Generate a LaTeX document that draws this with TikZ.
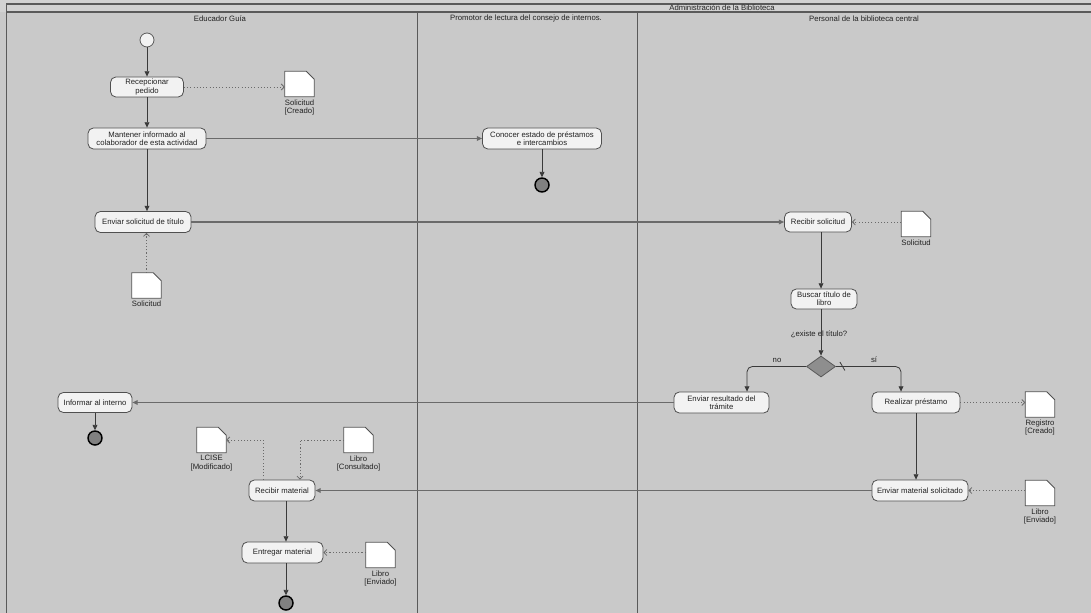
\documentclass[tikz,border=0pt]{standalone}
\usepackage{fontspec}
\setmainfont{Liberation Sans}
\usetikzlibrary{shapes.geometric,arrows.meta,calc}
\definecolor{bgc}{HTML}{C9C9C9}
\definecolor{topc}{HTML}{D2D2D2}
\definecolor{framec}{HTML}{5A5A5A}
\definecolor{boxfill}{HTML}{F2F2F2}
\definecolor{boxc}{HTML}{505050}
\definecolor{linec}{HTML}{3A3A3A}
\definecolor{hlinec}{HTML}{6A6A6A}
\definecolor{dotc}{HTML}{6A6A6A}
\definecolor{txt}{HTML}{222222}
\definecolor{finfill}{HTML}{808080}
\definecolor{diafill}{HTML}{8E8E8E}
\tikzset{
  act/.style 2 args={draw=boxc, fill=boxfill, rounded corners=4pt, inner sep=0pt,
    align=center, text=txt, line width=0.6pt, minimum width=#1, minimum height=#2},
  docbox/.style={inner sep=0pt, minimum width=21.75pt, minimum height=18.75pt},
  docline/.style={draw=boxc, fill=white, line width=0.6pt},
  doclbl/.style={inner sep=0pt, align=center, text=txt, anchor=north},
  lbl/.style={inner sep=0pt, text=txt},
  initnode/.style={circle, draw=framec, fill=boxfill, minimum size=10.5pt, inner sep=0pt, line width=0.6pt},
  finalnode/.style={circle, draw=black, fill=finfill, minimum size=10.5pt, inner sep=0pt, line width=1.1pt},
  decision/.style={diamond, draw=framec, fill=diafill, inner sep=0pt, minimum width=21.75pt, minimum height=15.75pt, line width=0.6pt},
  flow/.style={draw=linec, line width=0.6pt, -{Triangle[length=4pt,width=3.6pt]}},
  hflow/.style={draw=hlinec, line width=0.8pt, -{Triangle[length=4pt,width=3.6pt]}},
  obj/.style={draw=dotc, line width=0.6pt, dash pattern=on 0.8pt off 1.6pt, -{Straight Barb[length=2.2pt,width=4.5pt]}},
  frame/.style={draw=framec, line width=0.6pt},
  thickframe/.style={draw=framec, line width=1.2pt}
}
\newcommand\docdraw[1]{\draw[docline] (#1.south west) -- (#1.north west) -- ($(#1.north east)+(-8,0)$) -- ($(#1.north east)+(0,8)$) -- (#1.south east) -- cycle;}
\begin{document}
\begin{tikzpicture}[x=0.75pt,y=-0.75pt,font=\fontsize{5.8}{6.2}\selectfont]
\useasboundingbox (0,0) rectangle (1091,613);
\fill[bgc] (0,0) rectangle (1091,613);
\fill[topc] (0,0) rectangle (1091,12);
\draw[thickframe] (6,4) -- (1091,4);
\draw[thickframe] (6,12) -- (1091,12);
\draw[frame] (6,4) -- (6,613);
\draw[frame] (417,12) -- (417,613);
\draw[frame] (637,12) -- (637,613);
\node[lbl] (title) at (722,8) {Administración de la Biblioteca};
\node[lbl] (lane1) at (220,18.5) {Educador Guía};
\node[lbl] (lane2) at (526,18.5) {Promotor de lectura del consejo de internos.};
\node[lbl] (lane3) at (864,18.5) {Personal de la biblioteca central};

% activities
\node[initnode] (start) at (147,40) {};
\node[act={54.75pt}{15pt}] (recep) at (147,87) {Recepcionar\\pedido};
\node[act={88.5pt}{15.75pt}] (mant) at (147,138.5) {Mantener informado al\\colaborador de esta actividad};
\node[act={89.25pt}{15.75pt}] (conocer) at (542,138.5) {Conocer estado de préstamos\\e intercambios};
\node[finalnode] (fin1) at (542,185) {};
\node[act={72pt}{15.75pt}] (envsol) at (143,222) {Enviar solicitud de título};
\node[act={50.25pt}{15pt}] (recsol) at (818,222) {Recibir solicitud};
\node[act={49.5pt}{15pt}] (buscar) at (824,299) {Buscar título de\\libro};
\node[decision] (dia) at (821,366.5) {};
\node[act={71.25pt}{15.75pt}] (envres) at (721.5,402.5) {Enviar resultado del\\trámite};
\node[act={66pt}{15.75pt}] (realizar) at (916,402.5) {Realizar préstamo};
\node[act={55.5pt}{15pt}] (informar) at (95,402.5) {Informar al interno};
\node[finalnode] (fin2) at (95,438) {};
\node[act={72pt}{15.75pt}] (envmat) at (920,490.5) {Enviar material solicitado};
\node[act={49.5pt}{15.75pt}] (recmat) at (282,490.5) {Recibir material};
\node[act={60.75pt}{15.75pt}] (entregar) at (282.5,552.5) {Entregar material};
\node[finalnode] (fin3) at (286,603) {};

% documents
\node[docbox] (docA) at (299.5,84) {}; \docdraw{docA}
\node[doclbl] (docAl) at ($(docA.south)+(0,2.5)$) {Solicitud\\{}[Creado]};
\node[docbox] (docB) at (146.5,285.5) {}; \docdraw{docB}
\node[doclbl] (docBl) at ($(docB.south)+(0,2.5)$) {Solicitud};
\node[docbox] (docC) at (916,224) {}; \docdraw{docC}
\node[doclbl] (docCl) at ($(docC.south)+(0,2.5)$) {Solicitud};
\node[docbox] (docD) at (1040,404.5) {}; \docdraw{docD}
\node[doclbl] (docDl) at ($(docD.south)+(0,2.5)$) {Registro\\{}[Creado]};
\node[docbox] (docE) at (1040,493) {}; \docdraw{docE}
\node[doclbl] (docEl) at ($(docE.south)+(0,2.5)$) {Libro\\{}[Enviado]};
\node[docbox] (docF) at (211.5,440) {}; \docdraw{docF}
\node[doclbl] (docFl) at ($(docF.south)+(0,2.5)$) {LCISE\\{}[Modificado]};
\node[docbox] (docG) at (358.5,440) {}; \docdraw{docG}
\node[doclbl] (docGl) at ($(docG.south)+(0,2.5)$) {Libro\\{}[Consultado]};
\node[docbox] (docH) at (380.5,555) {}; \docdraw{docH}
\node[doclbl] (docHl) at ($(docH.south)+(0,2.5)$) {Libro\\{}[Enviado]};

% labels
\node[lbl] (qlbl) at (819,334) {¿existe el título?};
\node[lbl] (nolbl) at (777,360) {no};
\node[lbl] (silbl) at (874,360) {sí};

% helper coordinates
\coordinate (c1) at ($(recmat.south)+(4,0)$);
\coordinate (c2) at ($(recmat.north)+(-19,0)$);
\coordinate (c3) at ($(recmat.north)+(18,0)$);
\coordinate (c4) at ($(envres.north)+(25.5,0)$);
\coordinate (c5) at ($(realizar.north)+(-15,0)$);

% control flows
\draw[flow] (start.south) -- (recep.north);
\draw[flow] (recep.south) -- (mant.north);
\draw[flow] (mant.south) -- (mant.south |- envsol.north);
\draw[hflow] (mant.east) -- (conocer.west);
\draw[flow] (conocer.south) -- (fin1.north);
\draw[hflow] (envsol.east) -- (recsol.west);
\draw[flow] (recsol.south -| dia.north) -- (buscar.north -| dia.north);
\draw[flow] (buscar.south -| dia.north) -- (dia.north);
\draw[flow, rounded corners=4pt] (dia.west) -| (c4);
\draw[flow, rounded corners=4pt] (dia.east) -| (c5);
\draw[linec, line width=0.6pt] ($(dia.east)+(4,-4.5)$) -- ($(dia.east)+(9,4)$);
\draw[hflow] (envres.west) -- (informar.east);
\draw[flow] (informar.south) -- (fin2.north);
\draw[flow] (realizar.south) -- (realizar.south |- envmat.north);
\draw[hflow] (envmat.west) -- (recmat.east);
\draw[flow] (c1) -- (c1 |- entregar.north);
\draw[flow] (entregar.south -| c1) -- (c1 |- fin3.north);

% object flows
\draw[obj] (recep.east) -- (recep.east -| docA.west);
\draw[obj] (docB.north) -- (docB.north |- envsol.south);
\draw[obj] (recsol.east -| docC.west) -- (recsol.east);
\draw[obj] (realizar.east) -- (realizar.east -| docD.west);
\draw[obj] (envmat.east -| docE.west) -- (envmat.east);
\draw[obj] (c2) |- (docF.east);
\draw[obj] (docG.west) -| (c3);
\draw[obj] (entregar.east -| docH.west) -- (entregar.east);
\end{tikzpicture}
\end{document}
